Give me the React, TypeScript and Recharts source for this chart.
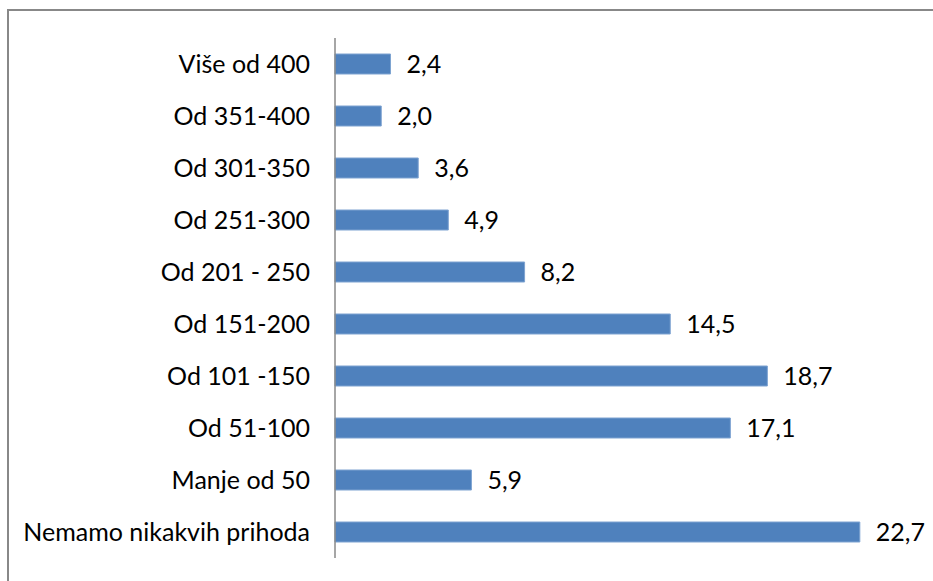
import React from 'react';
import { BarChart, Bar, XAxis, YAxis, LabelList } from 'recharts';

const categories = [
  'Više od 400',
  'Od 351-400',
  'Od 301-350',
  'Od 251-300',
  'Od 201 - 250',
  'Od 151-200',
  'Od 101 -150',
  'Od 51-100',
  'Manje od 50',
  'Nemamo nikakvih prihoda',
];
const values = [2.4, 2.0, 3.6, 4.9, 8.2, 14.5, 18.7, 17.1, 5.9, 22.7];

const data = categories.map((name, i) => ({ name, value: values[i] }));

const fmt = (v: any) => Number(v).toFixed(1).replace('.', ',');

const App = () => {
  return (
    <div style={{ position: 'absolute', left: 0, top: 0, width: 933, height: 581, overflow: 'hidden', background: '#fff', fontFamily: 'Lato, sans-serif' }}>
      <div
        style={{
          position: 'absolute',
          left: 7,
          top: 9,
          width: 960,
          height: 620,
          border: '2px solid #888',
          boxSizing: 'border-box',
        }}
      />
      <BarChart
        width={933}
        height={581}
        data={data}
        layout="vertical"
        margin={{ top: 38, right: 20, bottom: 23, left: 0 }}
        style={{ position: 'absolute', left: 0, top: 0 }}
      >
        <XAxis type="number" domain={[0, 25]} hide />
        <YAxis
          type="category"
          dataKey="name"
          width={335}
          tickLine={false}
          tickMargin={19}
          axisLine={{ stroke: '#888', strokeWidth: 1.5 }}
          tick={{ fill: '#000', fontSize: 25, fontFamily: 'Lato, sans-serif' }}
          interval={0}
        />
        <Bar dataKey="value" fill="#4F81BD" stroke="#7EA3D1" strokeWidth={1} barSize={20} isAnimationActive={false}>
          <LabelList
            dataKey="value"
            position="right"
            offset={16}
            formatter={fmt}
            style={{ fill: '#000', fontSize: 25, fontFamily: 'Lato, sans-serif' }}
          />
        </Bar>
      </BarChart>
    </div>
  );
};

export default App;
